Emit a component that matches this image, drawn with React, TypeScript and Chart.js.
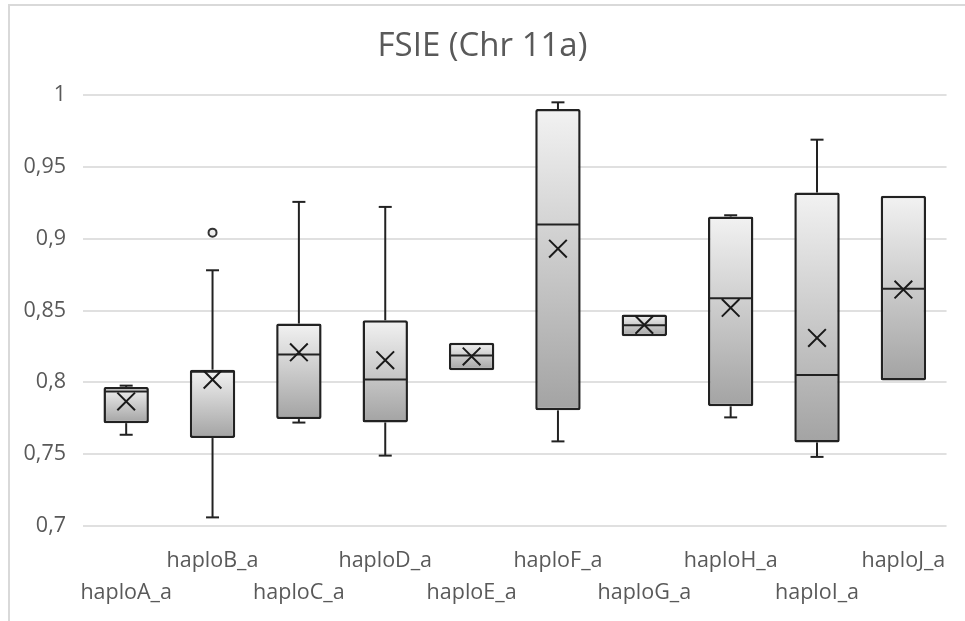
import React, { useEffect, useRef } from "react";
import { Chart, registerables } from "chart.js";

Chart.register(...registerables);

const categories = ["haploA_a", "haploB_a", "haploC_a", "haploD_a", "haploE_a", "haploF_a", "haploG_a", "haploH_a", "haploI_a", "haploJ_a"];
const whiskerLow = [0.7635, 0.706, 0.772, 0.749, 0.8084, 0.7589, 0.8321, 0.7756, 0.7481, 0.8012];
const q1 = [0.7716, 0.7612, 0.7744, 0.7721, 0.8084, 0.7805, 0.8321, 0.7833, 0.7582, 0.8012];
const medians = [0.7937, 0.8074, 0.8193, 0.8019, 0.8186, 0.9098, 0.8398, 0.8586, 0.8051, 0.8651];
const q3 = [0.7968, 0.8088, 0.8409, 0.8432, 0.8275, 0.9902, 0.8472, 0.9154, 0.9321, 0.9298];
const whiskerHigh = [0.7977, 0.878, 0.9256, 0.9221, 0.8275, 0.9949, 0.8472, 0.9163, 0.9689, 0.9298];
const means = [0.7867, 0.8019, 0.8209, 0.8154, 0.818, 0.893, 0.84, 0.8519, 0.8309, 0.8646];
const outliers = [null, 0.9042, null, null, null, null, null, null, null, null];

const FONT = "'Open Sans', sans-serif";
const TEXT = "#595959";
const DARK = "#222222";

const framePlugin = {
  id: "frame",
  beforeDraw(chart: any) {
    const ctx = chart.ctx;
    ctx.save();
    ctx.fillStyle = "#ffffff";
    ctx.fillRect(0, 0, chart.width, chart.height);
    ctx.fillStyle = "#d9d9d9";
    ctx.fillRect(8, 4, chart.width - 8, 2);
    ctx.fillRect(8, 4, 2, chart.height - 4);
    ctx.restore();
  },
};

const boxPlugin = {
  id: "boxExtras",
  afterDatasetDraw(chart: any, args: any) {
    if (args.index !== 0) return;
    const meta = chart.getDatasetMeta(0);
    const y = chart.scales.y;
    const ctx = chart.ctx;
    const cap = 6.5;
    ctx.save();
    ctx.strokeStyle = DARK;
    ctx.lineWidth = 2;
    const line = (x1: number, y1: number, x2: number, y2: number) => {
      ctx.beginPath();
      ctx.moveTo(x1, y1);
      ctx.lineTo(x2, y2);
      ctx.stroke();
    };
    meta.data.forEach((bar: any, i: number) => {
      const x = bar.x;
      const w = bar.width;
      const pMed = y.getPixelForValue(medians[i]);
      line(x - w / 2 + 1, pMed, x + w / 2 - 1, pMed);
      const pQ3 = y.getPixelForValue(q3[i]);
      const pHi = y.getPixelForValue(whiskerHigh[i]);
      if (pQ3 - pHi > 0.5) {
        line(x, pQ3, x, pHi);
        line(x - cap, pHi, x + cap, pHi);
      }
      const pQ1 = y.getPixelForValue(q1[i]);
      const pLo = y.getPixelForValue(whiskerLow[i]);
      if (pLo - pQ1 > 0.5) {
        line(x, pQ1, x, pLo);
        line(x - cap, pLo, x + cap, pLo);
      }
    });
    ctx.restore();
  },
};

export default function App() {
  const ref = useRef<HTMLCanvasElement | null>(null);

  useEffect(() => {
    const canvas = ref.current;
    if (!canvas) return;
    const boxData = categories.map((_, i) => [q1[i], q3[i]]);
    const chart = new Chart(canvas, {
      type: "bar",
      data: {
        labels: categories,
        datasets: [
          {
            type: "bar",
            data: boxData as any,
            order: 2,
            barPercentage: 0.526,
            categoryPercentage: 1,
            borderColor: DARK,
            borderWidth: 2.5,
            borderSkipped: false,
            borderRadius: 2,
            backgroundColor: (c: any) => {
              const ch = c.chart;
              const ys = ch.scales && ch.scales.y;
              const i = c.dataIndex;
              if (!ys || i == null || !ch.chartArea) return "#cccccc";
              const top = ys.getPixelForValue(q3[i]);
              const bottom = ys.getPixelForValue(q1[i]);
              if (!isFinite(top) || !isFinite(bottom) || top === bottom) return "#cccccc";
              const g = ch.ctx.createLinearGradient(0, top, 0, bottom);
              g.addColorStop(0, "#f2f2f2");
              g.addColorStop(1, "#a3a3a3");
              return g;
            },
          } as any,
          {
            type: "line",
            data: means,
            order: 1,
            showLine: false,
            pointStyle: "crossRot",
            pointRadius: 12.5,
            pointHoverRadius: 12.5,
            pointBorderWidth: 2,
            pointBorderColor: "#1a1a1a",
            borderColor: "#1a1a1a",
            backgroundColor: "transparent",
          } as any,
          {
            type: "line",
            data: outliers,
            order: 0,
            showLine: false,
            pointStyle: "circle",
            pointRadius: 4,
            pointHoverRadius: 4,
            pointBorderWidth: 2,
            pointBorderColor: "#333333",
            pointBackgroundColor: "#eeeeee",
            borderColor: "#333333",
          } as any,
        ],
      },
      options: {
        responsive: false,
        animation: false,
        devicePixelRatio: 1,
        layout: { padding: { left: 8, right: 8, top: 0, bottom: 0 } },
        plugins: {
          legend: { display: false },
          tooltip: { enabled: false },
          title: {
            display: true,
            text: "FSIE (Chr 11a)",
            color: TEXT,
            font: { family: FONT, size: 33, weight: "normal", lineHeight: 1.2 },
            padding: { top: 26.5, bottom: 28.9 },
          },
        },
        scales: {
          x: {
            grid: { display: false, drawTicks: false },
            border: { display: false },
            ticks: {
              color: TEXT,
              font: { family: FONT, size: 21.5, lineHeight: 1.49 },
              padding: 19,
              maxRotation: 0,
              minRotation: 0,
              autoSkip: false,
              callback: (_v: any, i: number) => (i % 2 === 0 ? ["", categories[i]] : [categories[i]]),
            },
            afterFit: (s: any) => {
              s.height = 95;
            },
          },
          y: {
            min: 0.7,
            max: 1,
            grid: { color: "#e0e0e0", lineWidth: 2, drawTicks: false },
            border: { display: false },
            ticks: {
              stepSize: 0.05,
              color: TEXT,
              padding: 17,
              font: { family: FONT, size: 21.5 },
              callback: (v: any) => String(Math.round(Number(v) * 100) / 100).replace(".", ","),
            },
            afterFit: (s: any) => {
              s.width = 75;
            },
          },
        },
      },
      plugins: [framePlugin, boxPlugin],
    });
    return () => chart.destroy();
  }, []);

  return (
    <div style={{ position: "absolute", left: 0, top: 0, width: 965, height: 621 }}>
      <canvas ref={ref} width={965} height={621} style={{ display: "block" }} />
    </div>
  );
}
